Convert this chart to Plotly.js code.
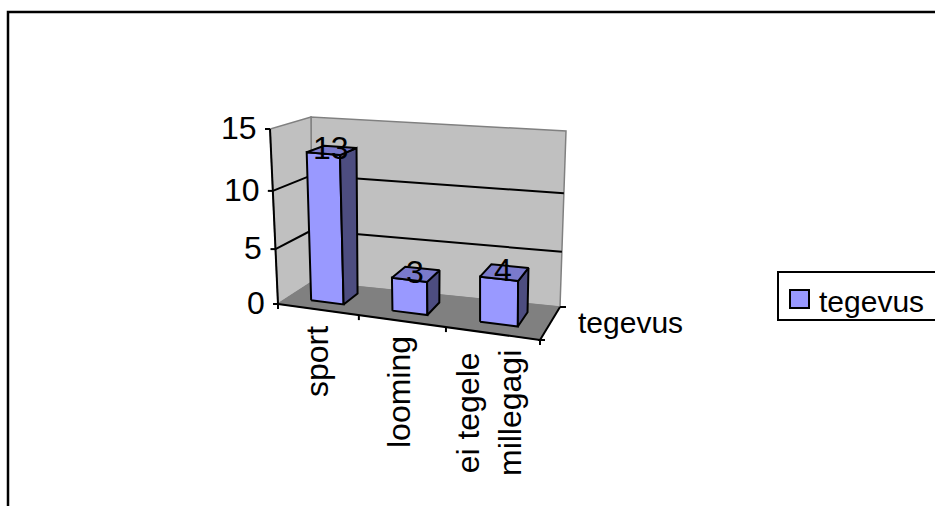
<!DOCTYPE html>
<html><head><meta charset="utf-8">
<script src="https://cdn.plot.ly/plotly-3.0.1.min.js"></script>
<style>html,body{margin:0;padding:0;background:#fff}#c{width:935px;height:506px}</style>
</head><body><div id="c"></div>
<script>
// data
const categories = ['sport', 'looming', 'ei tegele<br>millegagi'];
const values = [13, 3, 4];
const seriesName = 'tegevus';
const valueTicks = [0, 5, 10, 15];

// view of the 3-D box: corner pixels, perspective strengths
const floorC = {fl:[278,304], fr:[540,340], bl:[312,282], br:[560,307]};
const ceilC  = {fl:[270,129], fr:[540,153], bl:[311,117], br:[566,131]};
const kU = 0.12, kV = 0.094, vMax = 15;
const barW = 0.136, dFront = 0.3, dBack = 0.75;
const FS = 30, FS2 = 32, FONT = '"Liberation Sans", Arial, sans-serif';

const pu = t => t / (1 + kU * (1 - t));
const pv = t => t / (1 + kV * (1 - t));
const mix = (a, b, t) => [a[0] + (b[0]-a[0])*t, a[1] + (b[1]-a[1])*t];
function surf(c, u, d){ return mix(mix(c.fl, c.fr, u), mix(c.bl, c.br, u), d); }
// u: category position 0..1, v: value, d: depth 0..1
function P(u, v, d){
  const uu = pu(u);
  return mix(surf(floorC, uu, d), surf(ceilC, uu, d), pv(v / vMax));
}
const traces = [];
function poly(pts, fill, line, w){
  const x = pts.map(p => p[0]), y = pts.map(p => p[1]);
  x.push(x[0]); y.push(y[0]);
  traces.push({type:'scatter', mode:'lines', x, y, fill: fill ? 'toself' : 'none',
    fillcolor: fill || undefined, line:{color: line || 'rgba(0,0,0,0)', width: w || 0},
    hoverinfo:'skip', showlegend:false});
}
function seg(a, b, color, w){
  traces.push({type:'scatter', mode:'lines', x:[a[0],b[0]], y:[a[1],b[1]],
    line:{color: color || '#000', width: w || 2}, hoverinfo:'skip', showlegend:false});
}
// walls and floor
poly([P(0,0,1),P(1,0,1),P(1,vMax,1),P(0,vMax,1)], '#C0C0C0', '#808080', 1.5);
poly([P(0,0,0),P(0,0,1),P(0,vMax,1),P(0,vMax,0)], '#C0C0C0', '#808080', 1.5);
poly([P(0,0,0),P(1,0,0),P(1,0,1),P(0,0,1)], '#808080', '#808080', 1);
// gridlines
valueTicks.filter(v => v > 0 && v < vMax).forEach(v => {
  seg(P(0,v,0), P(0,v,1));
  seg(P(0,v,1), P(1,v,1));
});
// axes
seg(P(0,0,0), P(0,vMax,0));
seg(P(0,0,0), P(1,0,0));
seg(P(1,0,0), P(1,0,1));
valueTicks.forEach(v => { const p = P(0,v,0); seg([p[0]-5,p[1]], p); });
categories.forEach((c,i) => { const p = P(i/categories.length,0,0); seg(p, [p[0],p[1]+5]); });
{ const p = P(1,0,0); seg(p, [p[0],p[1]+5]); seg([p[0]-2,p[1]],[p[0]+5,p[1]]);
  const q = P(1,0,1); seg(q, [q[0]+6,q[1]]); }
// bars
const annotations = [];
values.forEach((val,i) => {
  const c = (i + 0.5) / values.length, a = c - barW/2, b = c + barW/2;
  poly([P(a,0,dFront),P(b,0,dFront),P(b,val,dFront),P(a,val,dFront)], '#9999FF', '#000', 2);
  poly([P(b,0,dFront),P(b,0,dBack),P(b,val,dBack),P(b,val,dFront)], '#4D4D80', '#000', 2);
  poly([P(a,val,dFront),P(b,val,dFront),P(b,val,dBack),P(a,val,dBack)], '#7A7ACC', '#000', 2);
});
function label(text, x, y, size, opt){
  annotations.push(Object.assign({text, x, y, xref:'x', yref:'y', showarrow:false,
    xanchor:'center', yanchor:'middle', font:{family:FONT, size, color:'#000'}}, opt||{}));
}
// data labels, drawn above the bar tops
values.forEach((val,i) => {
  const c = (i + 0.5) / values.length, p = P(c, val, (dFront+dBack)/2);
  label(String(val), p[0]-1, p[1]-2, FS2);
});
valueTicks.forEach(v => { const p = P(0,v,0); label(String(v), p[0]-11, p[1]-1, FS2, {xanchor:'right'}); });
categories.forEach((c,i) => {
  const xs = [317, 399, 489], ys = [362, 392, 413];
  label(c, xs[i], ys[i], FS2, {textangle:-90});
});
label(seriesName, 630, 322, FS);
label(seriesName, 817, 301, FS, {xanchor:'left'});

const shapes = [
  {type:'rect', xref:'x', yref:'y', x0:8, y0:12, x1:960, y1:530, line:{color:'#000', width:2.5}, fillcolor:'rgba(0,0,0,0)', layer:'below'},
  {type:'rect', xref:'x', yref:'y', x0:778, y0:272, x1:960, y1:320, line:{color:'#000', width:2}, fillcolor:'#fff', layer:'below'},
  {type:'rect', xref:'x', yref:'y', x0:790, y0:290, x1:809, y1:308, line:{color:'#000', width:2}, fillcolor:'#9999FF', layer:'below'}
];
const blank = {visible:false, fixedrange:true, autorange:false};
Plotly.newPlot('c', traces, {
  width:935, height:506, margin:{l:0,r:0,t:0,b:0},
  paper_bgcolor:'#fff', plot_bgcolor:'#fff', showlegend:false,
  xaxis:Object.assign({range:[0,935]}, blank),
  yaxis:Object.assign({range:[506,0]}, blank),
  shapes, annotations
}, {displayModeBar:false, staticPlot:true});
</script></body></html>
